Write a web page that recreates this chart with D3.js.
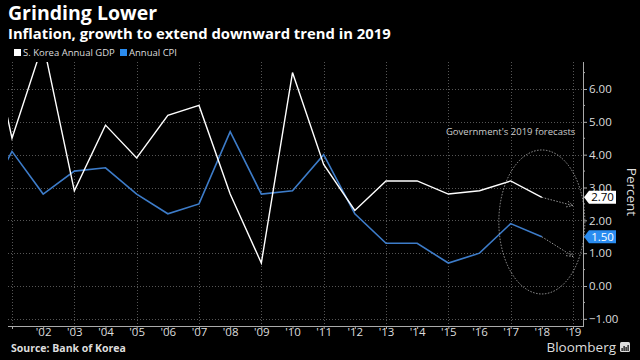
<!DOCTYPE html>
<html>
<head>
<meta charset="utf-8">
<script src="https://cdn.jsdelivr.net/npm/d3@7"></script>
<style>
  body { margin: 0; background: #000; }
  svg { display: block; font-family: "Open Sans", sans-serif; }
</style>
</head>
<body>
<script>
// canvas
const width = 640;
const height = 360;

// data (2000 is only there so the lines enter from the left edge)
const years = [2000, 2001, 2002, 2003, 2004, 2005, 2006, 2007, 2008, 2009,
  2010, 2011, 2012, 2013, 2014, 2015, 2016, 2017, 2018];
const gdp = [8.9, 4.5, 7.4, 2.9, 4.9, 3.9, 5.2, 5.5, 2.8, 0.7,
  6.5, 3.7, 2.3, 3.2, 3.2, 2.8, 2.9, 3.2, 2.7];
const cpi = [2.3, 4.1, 2.8, 3.5, 3.6, 2.8, 2.2, 2.5, 4.7, 2.8,
  2.9, 4.0, 2.2, 1.3, 1.3, 0.7, 1.0, 1.9, 1.5];
// forecast arrows 2018 -> 2019
const forecastGdp = [2.7, 2.45];
const forecastCpi = [1.5, 0.9];
const yTicks = [-1, 0, 1, 2, 3, 4, 5, 6];
const xTicks = d3.range(2001, 2020);

const plot = { left: 8, right: 583, top: 62, bottom: 326 };
const gdpColor = '#ffffff';
const cpiColor = '#3d7cc9';

const svg = d3.select('body').append('svg')
  .attr('width', width)
  .attr('height', height);

svg.append('rect').attr('width', width).attr('height', height).attr('fill', '#000');

// scales
const x = d3.scaleLinear().domain([2001, 2019]).range([12, 573]);
const y = d3.scaleLinear().domain([0, 6]).range([286, 89]);

// titles
svg.append('text').attr('x', 8).attr('y', 20)
  .attr('fill', '#fff').attr('font-size', 19.5).attr('font-weight', 'bold')
  .text('Grinding Lower');
svg.append('text').attr('x', 8).attr('y', 38.5)
  .attr('fill', '#fff').attr('font-size', 14.8).attr('font-weight', 'bold')
  .text('Inflation, growth to extend downward trend in 2019');

// legend
const legend = svg.append('g').attr('font-size', 9.5).attr('fill', '#ddd');
legend.append('rect').attr('x', 14).attr('y', 49).attr('width', 7).attr('height', 7).attr('fill', gdpColor);
legend.append('text').attr('x', 23).attr('y', 56).text('S. Korea Annual GDP');
legend.append('rect').attr('x', 120).attr('y', 49).attr('width', 7).attr('height', 7).attr('fill', '#2a8cf0');
legend.append('text').attr('x', 129).attr('y', 56).text('Annual CPI');

// grid
const grid = svg.append('g')
  .attr('stroke', '#555')
  .attr('stroke-width', 1)
  .attr('stroke-dasharray', '1,2');
grid.selectAll('.hgrid')
  .data(yTicks)
  .enter()
  .append('line')
  .attr('x1', plot.left).attr('x2', plot.right)
  .attr('y1', d => Math.round(y(d)) + 0.5).attr('y2', d => Math.round(y(d)) + 0.5);
grid.selectAll('.vgrid')
  .data(xTicks.filter(d => d % 2 === 1))
  .enter()
  .append('line')
  .attr('y1', plot.top).attr('y2', plot.bottom)
  .attr('x1', d => Math.round(x(d)) + 0.5).attr('x2', d => Math.round(x(d)) + 0.5);

// y axis on the right
const yAxis = d3.axisRight(y)
  .tickValues(yTicks)
  .tickSize(4)
  .tickFormat(d3.format('.2f'));
const yAxisG = svg.append('g')
  .attr('transform', 'translate(' + plot.right + ',0)')
  .call(yAxis);
yAxisG.select('.domain').attr('d', 'M0.5,' + plot.top + 'V' + plot.bottom).attr('stroke', '#aaa');
yAxisG.selectAll('.tick line').attr('stroke', '#aaa');
yAxisG.selectAll('.tick text').attr('fill', '#ddd').attr('font-size', 11.5).attr('x', 6)
  .attr('font-family', '"Open Sans", sans-serif');

// minor ticks
svg.append('g').selectAll('line')
  .data(d3.range(-1, 7).map(d => d + 0.5))
  .enter()
  .append('line')
  .attr('x1', plot.right).attr('x2', plot.right + 2)
  .attr('y1', d => y(d)).attr('y2', d => y(d))
  .attr('stroke', '#aaa');

// x axis
const xAxis = d3.axisBottom(x)
  .tickValues(xTicks)
  .tickSize(3)
  .tickFormat(d => d === 2001 ? '' : "'" + String(d).slice(2));
const xAxisG = svg.append('g')
  .attr('transform', 'translate(0,' + plot.bottom + ')')
  .call(xAxis);
xAxisG.select('.domain').attr('d', 'M' + plot.left + ',0.5H' + (plot.right + 1)).attr('stroke', '#aaa');
xAxisG.selectAll('.tick line').attr('stroke', '#aaa');
xAxisG.selectAll('.tick text').attr('fill', '#ddd').attr('font-size', 11.5)
  .attr('y', 2).attr('dy', '0.71em')
  .attr('font-family', '"Open Sans", sans-serif');

// clip
svg.append('clipPath').attr('id', 'clip')
  .append('rect')
  .attr('x', plot.left).attr('y', plot.top)
  .attr('width', plot.right - plot.left).attr('height', plot.bottom - plot.top);

const line = d3.line()
  .x(d => x(d[0]))
  .y(d => y(d[1]));

const lines = svg.append('g').attr('clip-path', 'url(#clip)');
lines.append('path')
  .datum(d3.zip(years, cpi))
  .attr('d', line)
  .attr('fill', 'none')
  .attr('stroke', cpiColor)
  .attr('stroke-width', 1.6);
lines.append('path')
  .datum(d3.zip(years, gdp))
  .attr('d', line)
  .attr('fill', 'none')
  .attr('stroke', gdpColor)
  .attr('stroke-width', 1.4);

// forecast annotation
const anno = svg.append('g').attr('stroke', '#bbb').attr('fill', 'none')
  .attr('stroke-width', 0.8).attr('stroke-dasharray', '1.5,1.5');
[forecastGdp, forecastCpi].forEach(function(f) {
  const x1 = x(2018), y1 = y(f[0]);
  const x2 = x(2019), y2 = y(f[1]);
  anno.append('line').attr('x1', x1).attr('y1', y1).attr('x2', x2).attr('y2', y2);
  const a = Math.atan2(y2 - y1, x2 - x1);
  const h = 7;
  anno.append('path')
    .attr('stroke-dasharray', null)
    .attr('d', 'M' + (x2 - h * Math.cos(a - 0.45)) + ',' + (y2 - h * Math.sin(a - 0.45)) +
      'L' + x2 + ',' + y2 +
      'L' + (x2 - h * Math.cos(a + 0.45)) + ',' + (y2 - h * Math.sin(a + 0.45)));
});
anno.append('ellipse')
  .attr('cx', x(2018)).attr('cy', y(1.95))
  .attr('rx', 43).attr('ry', 72);

svg.append('text')
  .attr('x', x(2017)).attr('y', 135)
  .attr('text-anchor', 'middle')
  .attr('fill', '#ccc').attr('font-size', 9.5)
  .text("Government's 2019 forecasts");

// last value tags
function tag(v, bg, fg) {
  const yy = y(v);
  const g = svg.append('g').attr('transform', 'translate(' + (plot.right + 1) + ',' + yy + ')');
  g.append('path')
    .attr('d', 'M0,0L5,-6.5H32V6.5H5Z')
    .attr('fill', bg);
  g.append('text')
    .attr('x', 18.5).attr('y', 0).attr('dy', '0.36em')
    .attr('text-anchor', 'middle')
    .attr('fill', fg).attr('font-size', 11.5)
    .text(d3.format('.2f')(v));
}
tag(gdp[gdp.length - 1], '#fff', '#000');
tag(cpi[cpi.length - 1], '#2a8cf0', '#fff');

// axis title
svg.append('text')
  .attr('transform', 'translate(627,192) rotate(90)')
  .attr('text-anchor', 'middle')
  .attr('fill', '#ddd').attr('font-size', 13.5)
  .text('Percent');

// footer
svg.append('text').attr('x', 11).attr('y', 352)
  .attr('fill', '#ddd').attr('font-size', 10.5).attr('font-weight', 'bold')
  .text('Source:  Bank of Korea');
svg.append('text').attr('x', 616).attr('y', 352)
  .attr('text-anchor', 'end')
  .attr('fill', '#ddd').attr('font-size', 13.5)
  .text('Bloomberg');
const icon = svg.append('g').attr('transform', 'translate(620,342)');
icon.append('rect').attr('width', 10).attr('height', 10).attr('rx', 1.5).attr('fill', '#ddd');
icon.selectAll('.b').data([3, 5, 4, 6]).enter().append('rect')
  .attr('x', (d, i) => 1.5 + i * 2).attr('y', d => 9 - d).attr('width', 1.2).attr('height', d => d)
  .attr('fill', '#000');
</script>
</body>
</html>
